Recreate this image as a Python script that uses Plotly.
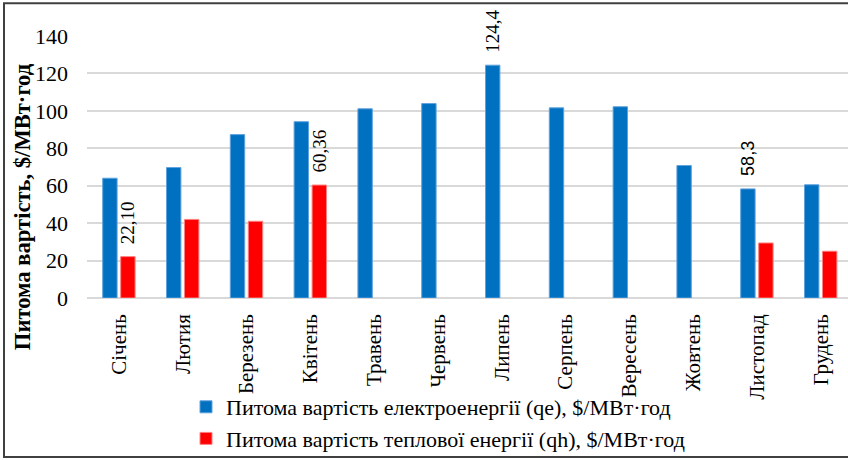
import plotly.graph_objects as go

# Monthly specific costs, $/MWh
months = ["Січень", "Лютия", "Березень", "Квітень", "Травень", "Червень",
          "Липень", "Серпень", "Вересень", "Жовтень", "Листопад", "Грудень"]
electric_cost = [64.0, 69.7, 87.3, 94.2, 101.1, 103.9, 124.4, 101.6, 102.2, 70.8, 58.3, 60.5]
heat_cost = [22.10, 42.0, 41.0, 60.36, None, None, None, None, None, None, 29.4, 25.0]
electric_labels = ["", "", "", "", "", "", "124,4", "", "", "", "58,3", ""]
heat_labels = ["22,10", "", "", "60,36", "", "", "", "", "", "", "", ""]
y_ticks = [0, 20, 40, 60, 80, 100, 120, 140]

W, H = 848, 460
L, R, T, B = 87, 0, 36, 160.7
plot_w = W - L - R
plot_h = H - T - B
cat_px = 63.8  # horizontal space per month


def px_x(px):
    return (px - L) / plot_w


def px_y(py):
    return (H - B - py) / plot_h


serif = "'Times New Roman', 'Liberation Serif', Tinos, 'DejaVu Serif', serif"
sans = "Arial, 'Liberation Sans', sans-serif"
NB = "\u00a0\u00a0"

fig = go.Figure()
fig.add_trace(go.Bar(
    x=months, y=electric_cost,
    name="Питома вартість електроенергії (qe), $/МВт·год",
    marker=dict(color="#0070C0", line=dict(color="#5FA2DD", width=1)),
    text=[NB + t if t else "" for t in electric_labels],
    textposition="outside", textangle=-90, constraintext="none",
    textfont=dict(family=[serif] * 10 + [sans, serif], size=[19] * 10 + [18, 19],
                  color="#000000"),
    cliponaxis=False,
))
fig.add_trace(go.Bar(
    x=months, y=heat_cost,
    name="Питома вартість теплової енергії (qh), $/МВт·год",
    marker=dict(color="#FF0000", line=dict(color="#FF8080", width=1)),
    text=[NB + t if t else "" for t in heat_labels],
    textposition="outside", textangle=-90, constraintext="none",
    textfont=dict(family=serif, size=19, color="#000000"),
    cliponaxis=False,
))

fig.update_layout(
    width=W, height=H,
    margin=dict(l=L, r=R, t=T, b=B, pad=0),
    paper_bgcolor="white", plot_bgcolor="white",
    barmode="group", bargap=0.436, bargroupgap=0.2,
    font=dict(family=serif, size=22, color="#000000"),
    showlegend=True,
    legend=dict(
        x=px_x(186), y=px_y(462), xanchor="left", yanchor="bottom",
        orientation="v", font=dict(family=serif, size=22, color="#000000"),
        bgcolor="rgba(0,0,0,0)", tracegroupgap=0, itemclick=False,
    ),
    xaxis=dict(
        type="category", categoryorder="array", categoryarray=months,
        range=[-0.5, -0.5 + plot_w / cat_px],
        tickangle=-90, ticks="", showgrid=False,
        showline=False, zeroline=False, ticklabelstandoff=11,
        tickfont=dict(family=serif, size=21, color="#000000"),
        automargin=False,
    ),
    yaxis=dict(
        range=[0, 140], tickvals=y_ticks, ticks="",
        showgrid=True, gridcolor="#D9D9D9", gridwidth=2,
        zeroline=True, zerolinecolor="#D9D9D9", zerolinewidth=2,
        showline=False, ticklabelstandoff=18,
        tickfont=dict(family=serif, size=22, color="#000000"),
        automargin=False,
    ),
    annotations=[dict(
        text="<b>Питома вартість, $/МВт·год</b>",
        xref="paper", yref="paper", x=px_x(22), y=px_y(208),
        xanchor="center", yanchor="middle", textangle=-90, showarrow=False,
        font=dict(family=serif, size=22.6, color="#000000"),
    )],
    shapes=[dict(
        type="rect", xref="paper", yref="paper",
        x0=px_x(4), x1=px_x(W + 4), y0=px_y(459), y1=px_y(3),
        line=dict(color="#404040", width=2), fillcolor="rgba(0,0,0,0)", layer="above",
    )],
)

fig.write_html("out.html")
